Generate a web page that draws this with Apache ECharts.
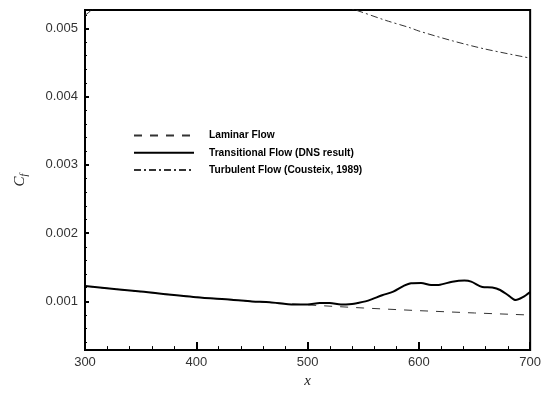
<!DOCTYPE html>
<html><head><meta charset="utf-8">
<script src="https://cdn.jsdelivr.net/npm/echarts@6/dist/echarts.min.js"></script>
<style>html,body{margin:0;padding:0;background:#fff}#c{width:544px;height:394px}</style>
</head><body><div id="c"></div>
<script>
var laminarX = [300, 350, 400, 450, 500, 550, 600, 650, 700];
var laminarY = [0.001224, 0.001142, 0.001062, 0.000999, 0.000948, 0.000903, 0.000864, 0.000830, 0.000800];

var transX = [300, 350, 400, 432, 450, 466, 488, 500, 511, 520, 530, 540, 545, 552, 558, 567, 577, 586, 593, 602, 611, 619, 630, 641, 647, 657, 666, 673, 681, 687, 693, 700];
var transY = [0.001224, 0.001143, 0.001061, 0.001025, 0.000999, 0.000986, 0.000953, 0.000953, 0.000975, 0.000975, 0.000953, 0.000962, 0.000976, 0.001000, 0.001033, 0.001090, 0.001143, 0.001224, 0.001267, 0.001271, 0.001240, 0.001245, 0.001288, 0.001305, 0.001290, 0.001212, 0.001203, 0.001167, 0.001081, 0.001019, 0.001057, 0.001138];

var turbX = [300, 306, 320, 350, 400, 450, 500, 543, 570, 592, 600, 630, 659, 700];
var turbY = [0.00519, 0.00527, 0.00545, 0.00565, 0.00575, 0.00565, 0.00548, 0.00527, 0.005119, 0.00501, 0.004962, 0.004819, 0.00470, 0.004565];

var yMajor = [0.001, 0.002, 0.003, 0.004, 0.005];
var yMinor = [0.0004, 0.0006, 0.0008, 0.0012, 0.0014, 0.0016, 0.0018, 0.0022, 0.0024, 0.0026, 0.0028, 0.0032, 0.0034, 0.0036, 0.0038, 0.0042, 0.0044, 0.0046, 0.0048, 0.0052];

var names = ['Laminar Flow', 'Transitional Flow (DNS result)', 'Turbulent Flow (Cousteix, 1989)'];

function pairs(xs, ys) { return xs.map(function (x, i) { return [x, ys[i]]; }); }

var yMin = 0.000286, yMax = 0.00527;
var labelFont = { color: '#333', fontSize: 13, fontFamily: 'Liberation Sans, Arial, sans-serif' };

var chart = echarts.init(document.getElementById('c'));
chart.setOption({
  animation: false,
  backgroundColor: '#fff',
  grid: { left: 85, right: 9, top: 10, bottom: 35, show: true, borderColor: '#000', borderWidth: 2, backgroundColor: 'transparent' },
  legend: {
    orient: 'vertical', left: 128, top: 125, itemWidth: 60, itemHeight: 14, itemGap: 6,
    data: names,
    itemStyle: { color: 'transparent', borderColor: 'transparent', borderWidth: 0 },
    textStyle: { color: '#000', fontWeight: 'bold', fontSize: 10.2, fontFamily: 'Liberation Sans, Arial, sans-serif', padding: [0, 0, 0, 10] },
    selectedMode: false
  },
  xAxis: {
    type: 'value', min: 300, max: 700, interval: 100,
    name: 'x', nameLocation: 'middle', nameGap: 20,
    nameTextStyle: { fontFamily: 'Liberation Serif, serif', fontStyle: 'italic', fontSize: 15, color: '#222' },
    axisLine: { show: true, lineStyle: { color: '#000', width: 2 } },
    axisTick: { show: true, inside: true, length: 8, lineStyle: { color: '#000', width: 2 } },
    minorTick: { show: true, splitNumber: 5, length: 4, lineStyle: { color: '#000', width: 1 } },
    splitLine: { show: false },
    axisLabel: Object.assign({ margin: 6 }, labelFont)
  },
  yAxis: [{
    type: 'value', min: yMin, max: yMax,
    name: '{c|C}{s|f}', nameLocation: 'middle', nameGap: 56, nameRotate: 90,
    nameTextStyle: {
      rich: {
        c: { fontFamily: 'Liberation Serif, serif', fontStyle: 'italic', fontSize: 15, color: '#222' },
        s: { fontFamily: 'Liberation Serif, serif', fontStyle: 'italic', fontSize: 10, color: '#222', padding: [8, 0, 0, 0] }
      }
    },
    axisLine: { show: true, lineStyle: { color: '#000', width: 2 } },
    axisTick: { show: true, inside: true, length: 4, customValues: yMajor, lineStyle: { color: '#000', width: 2 } },
    splitLine: { show: false },
    axisLabel: Object.assign({ margin: 7, customValues: yMajor, formatter: function (v) { return v.toFixed(3); } }, labelFont)
  }, {
    type: 'value', min: yMin, max: yMax, position: 'left',
    axisLine: { show: false },
    axisTick: { show: true, inside: true, length: 2, customValues: yMinor, lineStyle: { color: '#000', width: 1 } },
    axisLabel: { show: false },
    splitLine: { show: false }
  }],
  series: [{
    name: names[0], type: 'line', symbol: 'none', yAxisIndex: 0, z: 2, color: '#333',
    data: pairs(laminarX, laminarY),
    lineStyle: { color: '#333', width: 1, type: [8, 8] }
  }, {
    name: names[1], type: 'line', symbol: 'none', yAxisIndex: 0, z: 3, color: '#000',
    data: pairs(transX, transY), smooth: 0.3,
    lineStyle: { color: '#000', width: 2, type: 'solid' }
  }, {
    name: names[2], type: 'line', symbol: 'none', yAxisIndex: 0, z: 2, clip: true, color: '#333',
    data: pairs(turbX, turbY), smooth: 0.3,
    lineStyle: { color: '#333', width: 1, type: [7, 3, 2, 3] }
  }]
});
</script>
</body></html>
